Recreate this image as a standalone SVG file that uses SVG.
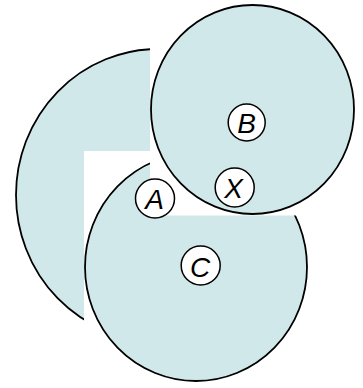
<svg xmlns="http://www.w3.org/2000/svg" width="363" height="388" viewBox="0 0 363 388">
<style>
.big{fill:#d0e8ea;stroke:#000;stroke-width:1.8}
.small{fill:#fff;stroke:#000;stroke-width:1.5}
.lbl{font-family:"Liberation Sans",Arial,sans-serif;font-style:italic;font-size:28px;fill:#000;text-anchor:middle}
</style>
<defs>
<clipPath id="clipL"><path d="M0,0 H150 V151 H84 V388 H0 Z"/></clipPath>
<clipPath id="clipC"><path d="M0,0 H150 V215.5 H363 V388 H0 Z"/></clipPath>
</defs>
<rect width="363" height="388" fill="#fff"/>
<g id="regionL"><ellipse class="big" cx="158" cy="195" rx="142" ry="146" clip-path="url(#clipL)"/></g>
<g id="regionC"><ellipse class="big" cx="196" cy="267" rx="111" ry="114" clip-path="url(#clipC)"/></g>
<g id="regionB"><ellipse class="big" cx="252.5" cy="109.5" rx="101.5" ry="104.5"/></g>
<g id="nodeB"><circle class="small" cx="246.7" cy="122.5" r="18.5"/><text class="lbl" x="246.5" y="133">B</text></g>
<g id="nodeX"><circle class="small" cx="234.7" cy="187.5" r="19.5"/><text class="lbl" x="233.5" y="198">X</text></g>
<g id="nodeA"><circle class="small" cx="155" cy="198.5" r="19.5"/><text class="lbl" x="154.5" y="209">A</text></g>
<g id="nodeC"><circle class="small" cx="200.7" cy="265.5" r="19.5"/><text class="lbl" x="200" y="276.5">C</text></g>
</svg>
